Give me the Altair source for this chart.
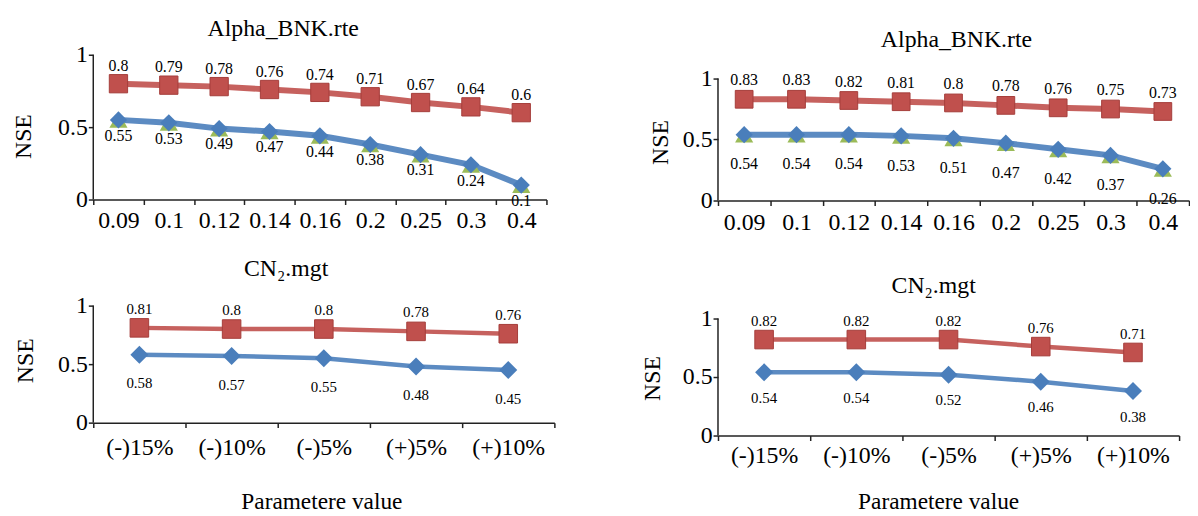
import altair as alt
import pandas as pd

SERIF = "Liberation Serif"
RED = "#C0504D"
RED_DARK = "#A53E3B"
BLUE = "#4A7EBB"
GREEN = "#9BBB59"

# ---- data ----
alpha_cats = ["0.09", "0.1", "0.12", "0.14", "0.16", "0.2", "0.25", "0.3", "0.4"]
tl_red = [0.8, 0.79, 0.78, 0.76, 0.74, 0.71, 0.67, 0.64, 0.6]
tl_blue = [0.55, 0.53, 0.49, 0.47, 0.44, 0.38, 0.31, 0.24, 0.1]
tr_red = [0.83, 0.83, 0.82, 0.81, 0.8, 0.78, 0.76, 0.75, 0.73]
tr_blue = [0.54, 0.54, 0.54, 0.53, 0.51, 0.47, 0.42, 0.37, 0.26]

cn_cats = ["(-)15%", "(-)10%", "(-)5%", "(+)5%", "(+)10%"]
bl_red = [0.81, 0.8, 0.8, 0.78, 0.76]
bl_blue = [0.58, 0.57, 0.55, 0.48, 0.45]
br_red = [0.82, 0.82, 0.82, 0.76, 0.71]
br_blue = [0.54, 0.54, 0.52, 0.46, 0.38]

y_ticks = [0, 0.5, 1]


def panel(cats, red, blue, ymax, w, h, title, tdx, toff, nse_x, nse_y,
          lab_pad, red_dy, blue_dy, lab_fs, lw, sq, dm, green,
          xtitle=None, xt_x=None, xt_y=None):
    df = pd.DataFrame({
        "cat": cats * 2,
        "series": ["red"] * len(cats) + ["blue"] * len(cats),
        "value": list(red) + list(blue),
    })
    xax = dict(labelAngle=0, labelFont=SERIF, labelFontSize=24, labelColor="black",
               tickBand="extent", tickSize=5, tickColor="#222", tickWidth=1.5,
               domainColor="#222", domainWidth=1.5, labelPadding=lab_pad, grid=False)
    if xtitle:
        xax.update(title=xtitle, titleFont=SERIF, titleFontSize=23.5,
                   titleFontWeight="normal", titleColor="black",
                   titleX=xt_x, titleY=xt_y, titleBaseline="middle")
    else:
        xax.update(title=None)
    x = alt.X("cat:N", sort=cats,
              scale=alt.Scale(type="band", domain=cats, paddingInner=0, paddingOuter=0),
              axis=alt.Axis(**xax))
    y = alt.Y("value:Q", scale=alt.Scale(domain=[0, ymax], nice=False, zero=False),
              axis=alt.Axis(values=y_ticks, format="~g", title="NSE",
                            titleX=nse_x, titleY=nse_y, titleAngle=270,
                            titleBaseline="middle", titleAlign="center",
                            titleFont=SERIF, titleFontSize=24, titleFontWeight="normal",
                            titleColor="black", labelFont=SERIF, labelFontSize=24,
                            labelColor="black", tickSize=5, tickColor="#222",
                            tickWidth=1.5, labelPadding=1, domain=False, grid=False))
    base = alt.Chart(df).encode(x=x, y=y)
    r = base.transform_filter(alt.datum.series == "red")
    b = base.transform_filter(alt.datum.series == "blue")
    layers = [
        r.mark_line(color=RED, strokeWidth=lw, opacity=0.9),
        b.mark_line(color=BLUE, strokeWidth=lw, opacity=0.9),
    ]
    if green:
        layers.append(b.mark_point(shape="triangle-up", filled=True, size=dm + 35,
                                   color=GREEN, opacity=1))
    layers += [
        b.mark_point(shape="diamond", filled=True, size=dm, color=BLUE, opacity=1),
        r.mark_point(shape="square", filled=True, size=sq, color=RED, opacity=1,
                     stroke=RED_DARK, strokeWidth=1),
        r.mark_text(dy=red_dy, font=SERIF, fontSize=lab_fs, color="black")
         .encode(text=alt.Text("value:Q", format="~g")),
        b.mark_text(dy=blue_dy, font=SERIF, fontSize=lab_fs, color="black")
         .encode(text=alt.Text("value:Q", format="~g")),
        alt.Chart(pd.DataFrame({"a": [0]})).mark_rule(color="#222", strokeWidth=1.5)
         .encode(x=alt.value(0), y=alt.datum(0), y2=alt.datum(1)),
    ]
    return alt.layer(*layers).properties(
        width=w, height=h,
        title=alt.TitleParams(title, font=SERIF, fontSize=24, fontWeight="normal",
                              color="black", anchor="middle", dx=tdx, offset=toff),
    )


tl = panel(alpha_cats, tl_red, tl_blue, 1.0, 457, 146, "Alpha_BNK.rte", -37, 2,
           -70, 82, 4, -18, 16, 16, 6, 340, 300, True)
tr = panel(alpha_cats, tr_red, tr_blue, 1.195, 475, 147, "Alpha_BNK.rte", 3, 3,
           -58, 88, 5, -19, 30, 16, 6, 320, 300, True)
bl = panel(cn_cats, bl_red, bl_blue, 1.0, 465, 118, "CN\u2082.mgt", -38, 13,
           -68, 55, 8, -19, 29, 15, 4.5, 350, 330, False,
           "Parametere value", 230, 80)
br = panel(cn_cats, br_red, br_blue, 1.11, 465, 131, "CN\u2082.mgt", -15, 8,
           -66, 73, 3, -19, 26, 15, 4.5, 350, 330, False,
           "Parametere value", 222, 67)

chart = alt.concat(tl, tr, bl, br, columns=2,
                   spacing={"row": 106, "column": 165}, bounds="flush").properties(
    padding={"left": 4, "top": 7, "right": 0, "bottom": 0},
    background="white",
).configure(font=SERIF).configure_axis(
    labelFont=SERIF, titleFont=SERIF
).configure_title(font=SERIF).configure_text(font=SERIF).configure_view(stroke=None)

chart.save("out.html", embed_options={"renderer": "svg", "actions": False})
